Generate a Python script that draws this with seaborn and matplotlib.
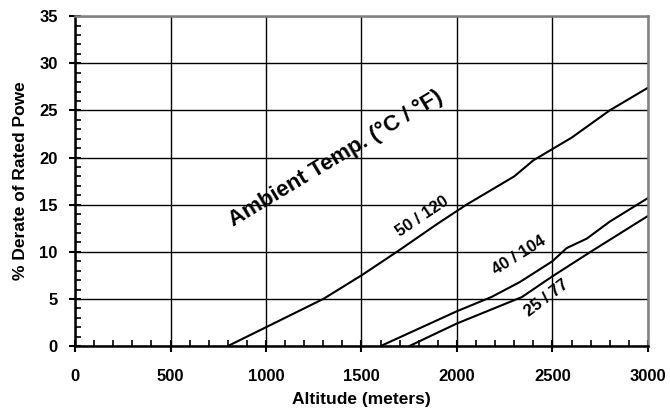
import matplotlib
matplotlib.use("Agg")
import matplotlib.pyplot as plt
import seaborn as sns
import pandas as pd
from matplotlib.ticker import MultipleLocator

sns.set_theme(style="white")
plt.rcParams['font.family'] = ['Liberation Sans', 'DejaVu Sans']
plt.rcParams['text.color'] = 'black'
plt.rcParams['axes.labelcolor'] = 'black'
plt.rcParams['xtick.color'] = 'black'
plt.rcParams['ytick.color'] = 'black'

# Data (altitude in meters, % derate)
alt_50 = [800, 1000, 1300, 1500, 1700, 1900, 2050, 2200, 2300, 2400, 2500, 2600, 2800, 3000]
der_50 = [0, 2.0, 5.0, 7.5, 10.2, 13.0, 15.0, 16.8, 18.0, 19.7, 20.9, 22.1, 25.0, 27.4]
alt_40 = [1600, 2000, 2180, 2330, 2500, 2575, 2680, 2800, 3000]
der_40 = [0, 3.7, 5.2, 6.8, 9.0, 10.4, 11.4, 13.2, 15.7]
alt_25 = [1750, 2000, 2340, 2500, 2700, 3000]
der_25 = [0, 2.4, 5.2, 7.4, 10.0, 13.8]

series_labels = ["50 / 120", "40 / 104", "25 / 77"]
x_ticks = [0, 500, 1000, 1500, 2000, 2500, 3000]
y_ticks = [0, 5, 10, 15, 20, 25, 30, 35]

frames = []
for lab, xs, ys in zip(series_labels, [alt_50, alt_40, alt_25], [der_50, der_40, der_25]):
    frames.append(pd.DataFrame({"alt": xs, "derate": ys, "temp": lab}))
df = pd.concat(frames, ignore_index=True)

fig = plt.figure(figsize=(6.7, 4.13), dpi=100)
ax = fig.add_axes([0.112, 0.162, 0.855, 0.799])

sns.lineplot(data=df, x="alt", y="derate", units="temp", estimator=None,
             color="black", linewidth=1.5, sort=False, ax=ax, legend=False)

ax.set_xlim(0, 3000)
ax.set_ylim(0, 35)
ax.set_xticks(x_ticks)
ax.set_yticks(y_ticks)
ax.xaxis.set_minor_locator(MultipleLocator(100))
ax.yaxis.set_minor_locator(MultipleLocator(1))
ax.grid(True, which="major", color="black", linewidth=1.0)
ax.set_axisbelow(True)

for lbl in ax.get_xticklabels() + ax.get_yticklabels():
    lbl.set_fontweight("bold")
    lbl.set_fontsize(12)
ax.tick_params(which="major", direction="inout", length=9, width=1.5, color="black",
               bottom=True, left=True)
ax.tick_params(axis="x", which="major", pad=12)
ax.tick_params(axis="y", which="major", pad=8)
ax.tick_params(which="minor", direction="in", length=4, width=1.2, color="black",
               bottom=True, left=True)

for s in ["left", "bottom"]:
    ax.spines[s].set_color("black")
    ax.spines[s].set_linewidth(1.8)
for s in ["top", "right"]:
    ax.spines[s].set_color("#808080")
    ax.spines[s].set_linewidth(1.8)

ax.set_xlabel("Altitude (meters)", fontsize=12.5, fontweight="bold", labelpad=6)
ax.set_ylabel("% Derate of Rated Powe", fontsize=12.5, fontweight="bold", labelpad=8)

ax.text(1366, 19.9, "Ambient Temp. (°C / °F)", fontsize=16, fontweight="bold",
        rotation=31, ha="center", va="center")
ax.text(1818, 13.7, "50 / 120", fontsize=12, fontweight="bold",
        rotation=34, ha="center", va="center")
ax.text(2326, 9.65, "40 / 104", fontsize=12, fontweight="bold",
        rotation=32, ha="center", va="center")
ax.text(2471, 5.1, "25 / 77", fontsize=12, fontweight="bold",
        rotation=37, ha="center", va="center")

fig.savefig("out.png", dpi=100)
